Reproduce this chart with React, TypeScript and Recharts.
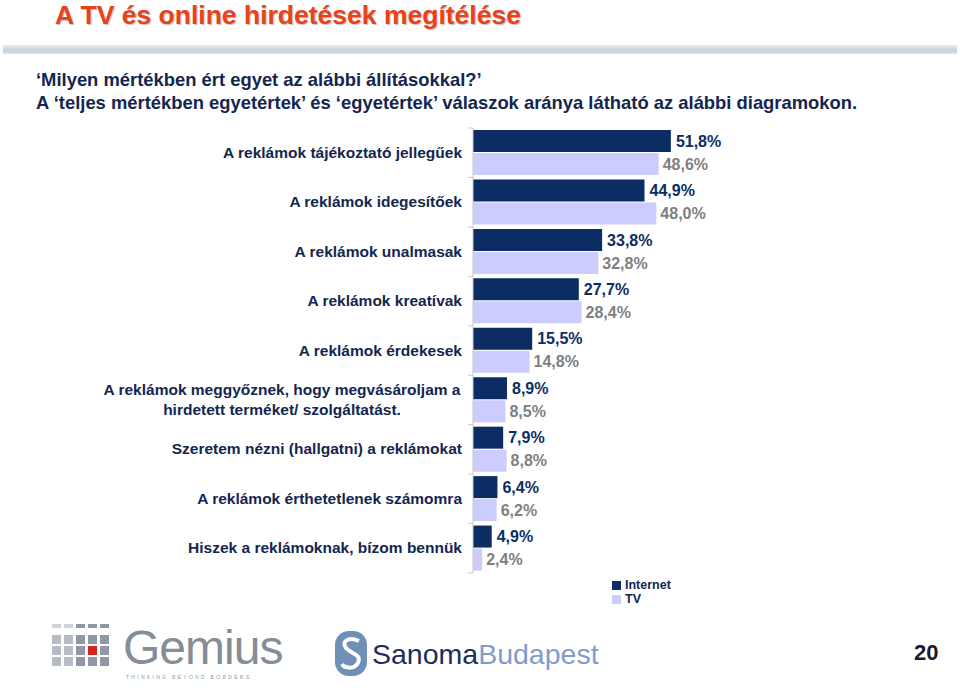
import { BarChart, Bar, XAxis, YAxis, LabelList } from 'recharts';

// Survey statements (y categories), top to bottom
const statements = [
  'A reklámok tájékoztató jellegűek',
  'A reklámok idegesítőek',
  'A reklámok unalmasak',
  'A reklámok kreatívak',
  'A reklámok érdekesek',
  'A reklámok meggyőznek, hogy megvásároljam a\nhirdetett terméket/ szolgáltatást.',
  'Szeretem nézni (hallgatni) a reklámokat',
  'A reklámok érthetetlenek számomra',
  'Hiszek a reklámoknak, bízom bennük',
];

// Share of "fully agree" + "agree" answers, %
const internetValues = [51.8, 44.9, 33.8, 27.7, 15.5, 8.9, 7.9, 6.4, 4.9];
const tvValues = [48.6, 48.0, 32.8, 28.4, 14.8, 8.5, 8.8, 6.2, 2.4];

const seriesNames = ['Internet', 'TV'];

const NAVY = '#0B2D63';
const LAVENDER = '#CCCCFF';
const TEXT_NAVY = '#13264F';
const SANS = '"Liberation Sans", Arial, sans-serif';

const data = statements.map((name, i) => ({
  name,
  Internet: internetValues[i],
  TV: tvValues[i],
}));

const fmt = (v: any) => `${Number(v).toFixed(1).replace('.', ',')}%`;

/**
 * Y axis tick: statement text plus the small boundary ticks of the band
 */
const StatementTick = ({ x, y, payload, index }: any) => {
  const lines = String(payload.value).split('\n');
  const half = 24.7;
  const ax = x + 8; // axis line position
  const isLast = index === statements.length - 1;
  return (
    <g>
      <line x1={ax - 5} x2={ax} y1={y - half} y2={y - half} stroke="#C8C8C8" />
      {isLast && <line x1={ax - 5} x2={ax} y1={y + half} y2={y + half} stroke="#C8C8C8" />}
      {lines.length === 1 ? (
        <text
          x={ax - 11}
          y={y}
          dy={5}
          textAnchor="end"
          fill={TEXT_NAVY}
          fontFamily={SANS}
          fontWeight="bold"
          fontSize={15.5}
        >
          {lines[0]}
        </text>
      ) : (
        <text
          x={ax - 191}
          y={y}
          textAnchor="middle"
          fill={TEXT_NAVY}
          fontFamily={SANS}
          fontWeight="bold"
          fontSize={15.5}
        >
          {lines.map((l, i) => (
            <tspan key={i} x={ax - 191} dy={i === 0 ? -5 : 20}>
              {l}
            </tspan>
          ))}
        </text>
      )}
    </g>
  );
};

const LegendBox = () => (
  <div
    style={{
      position: 'absolute',
      left: 612,
      top: 579,
      fontFamily: SANS,
      fontWeight: 'bold',
      fontSize: 12.5,
      color: TEXT_NAVY,
      lineHeight: '13.5px',
    }}
  >
    {seriesNames.map((s, i) => (
      <div key={s} style={{ display: 'flex', alignItems: 'center', gap: 4 }}>
        <div style={{ width: 9, height: 9, background: i === 0 ? NAVY : LAVENDER }} />
        <span>{s}</span>
      </div>
    ))}
  </div>
);

const GemiusLogo = () => {
  const cells: JSX.Element[] = [];
  for (let c = 0; c < 5; c++) {
    for (let r = 0; r < 4; r++) {
      const isRed = c === 3 && r === 2;
      const fade = c < 2 && r < 1;
      cells.push(
        <rect
          key={`${c}-${r}`}
          x={2 + c * 12}
          y={4 + r * 11}
          width={9}
          height={r === 0 ? 4 : 9}
          fill={isRed ? '#D8231E' : fade ? '#D0D4DA' : c < 2 ? '#B5BCC6' : '#8F98A4'}
        />
      );
    }
  }
  return (
    <svg width={240} height={62} style={{ position: 'absolute', left: 50, top: 620 }}>
      {cells}
      <text x={73} y={44} fontFamily={SANS} fontSize={48} fill="#858D97" letterSpacing={-1}>
        Gemius
      </text>
      <text x={76} y={59} fontFamily={SANS} fontSize={5} fill="#8F98A4" letterSpacing={2.3}>
        THINKING   BEYOND   BORDERS
      </text>
    </svg>
  );
};

const SanomaLogo = () => (
  <svg width={280} height={56} style={{ position: 'absolute', left: 332, top: 628 }}>
    <rect x={3} y={3} width={32} height={45} rx={14} fill="#6F8FB8" />
    <path d="M27 13 C16 8, 9 14, 14 20 C19 26, 30 26, 26 35 C22 42, 12 40, 10 36" stroke="#fff" strokeWidth={4} fill="none" />
    <text x={40} y={36} fontFamily={SANS} fontSize={28.5} fill="#1D2D5C">
      Sanoma
      <tspan fill="#7F9DC8">Budapest</tspan>
    </text>
  </svg>
);

export default function App() {
  return (
    <div style={{ position: 'absolute', left: 0, top: 0, width: 960, height: 688, background: '#fff', overflow: 'hidden' }}>
      {/* Title */}
      <div
        style={{
          position: 'absolute',
          left: 55,
          top: 0,
          fontFamily: SANS,
          fontWeight: 'bold',
          fontSize: 26.5,
          color: '#E8421B',
          textShadow: '1px 1px 1px rgba(0,0,0,0.25)',
        }}
      >
        A TV és online hirdetések megítélése
      </div>
      {/* Separator band */}
      <div
        style={{
          position: 'absolute',
          left: 3,
          top: 45,
          width: 954,
          height: 9,
          background: 'linear-gradient(#E6ECF2, #C6D1DD 60%, #DCE3EA)',
        }}
      />
      {/* Question text */}
      <div
        style={{
          position: 'absolute',
          left: 36,
          top: 68,
          fontFamily: SANS,
          fontWeight: 'bold',
          fontSize: 18.4,
          lineHeight: '23px',
          color: TEXT_NAVY,
        }}
      >
        <div>‘Milyen mértékben ért egyet az alábbi állításokkal?’</div>
        <div>A ‘teljes mértékben egyetértek’ és ‘egyetértek’ válaszok aránya látható az alábbi diagramokon.</div>
      </div>

      <div style={{ position: 'absolute', left: 80, top: 118 }}>
        <BarChart
          width={800}
          height={490}
          layout="vertical"
          data={data}
          margin={{ top: 10, right: 25, left: 0, bottom: 35 }}
          barCategoryGap={2}
          barGap={1}
        >
          <XAxis type="number" domain={[0, 100]} hide />
          <YAxis
            dataKey="name"
            type="category"
            width={393}
            axisLine={{ stroke: '#C8C8C8' }}
            tickLine={false}
            tick={<StatementTick />}
            interval={0}
          />
          <Bar dataKey="Internet" fill={NAVY} isAnimationActive={false}>
            <LabelList
              dataKey="Internet"
              position="right"
              offset={5}
              formatter={fmt}
              fill={NAVY}
              fontFamily={SANS}
              fontWeight="bold"
              fontSize={16}
            />
          </Bar>
          <Bar dataKey="TV" fill={LAVENDER} isAnimationActive={false}>
            <LabelList
              dataKey="TV"
              position="right"
              offset={4}
              formatter={fmt}
              fill="#7F7F7F"
              fontFamily={SANS}
              fontWeight="bold"
              fontSize={16}
            />
          </Bar>
        </BarChart>
      </div>

      <LegendBox />
      <GemiusLogo />
      <SanomaLogo />
      <div
        style={{
          position: 'absolute',
          left: 914,
          top: 640,
          fontFamily: SANS,
          fontWeight: 'bold',
          fontSize: 22,
          color: '#1B1B2B',
        }}
      >
        20
      </div>
    </div>
  );
}
